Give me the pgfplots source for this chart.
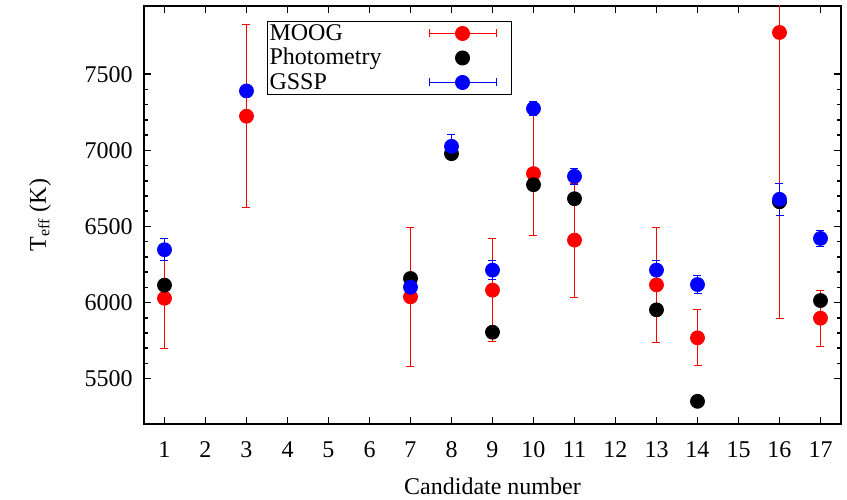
\documentclass[border=0pt]{standalone}
\usepackage{fontspec}
\setmainfont{Liberation Serif}
\usepackage{pgfplots}
\pgfplotsset{compat=1.18}
\begin{document}
\fontsize{12}{14}\selectfont
\begin{tikzpicture}
\useasboundingbox (-72pt,-37.35pt) rectangle (351.5pt,212.15pt);
\begin{axis}[
  at={(0,0)}, anchor=south west,
  scale only axis, width=348.5pt, height=209.3pt,
  xmin=0.5, xmax=17.5, ymin=5200, ymax=7950,
  xtick={1,...,17},
  ytick={5500,6000,6500,7000,7500},
  minor y tick num=4,
  tick align=inside,
  major tick length=3.5pt, minor tick length=2pt,
  every tick/.style={black, line width=0.8pt},
  axis line style={line width=1pt},
  /pgf/number format/assume math mode=true,
  /pgf/number format/set thousands separator={},
  tick label style={font=\fontsize{12}{14}\selectfont},
  label style={font=\fontsize{12}{14}\selectfont},
  xticklabel style={yshift=-4.5pt},
  yticklabel style={xshift=-1.5pt},
  xlabel={Candidate number},
  ylabel={T\textsubscript{eff} (K)},
  xlabel style={at={(axis description cs:0.5,0)}, anchor=center, yshift=-31pt},
  ylabel style={at={(axis description cs:-0.1492,0.5)}, anchor=center},
  legend plot pos=right,
  legend cell align=left,
  legend style={at={(axis description cs:0.1765,0.9635)}, anchor=north west,
    draw=black, line width=0.5pt, inner sep=0.5pt, row sep=1.25pt,
    nodes={inner sep=0.5pt, text height=8.5pt, text depth=1.5pt,
      font=\fontsize{12}{14}\selectfont}},
  clip=true,
]
% MOOG
\addplot[only marks, mark=*, mark size=3.5pt, color=red, mark options={draw=red, fill=red},
  legend image code/.code={
    \path[draw=none, fill=none] (0pt,-3.5pt) rectangle (40.5pt,3.5pt);
    \draw[red, line width=0.5pt] (0pt,0pt) -- (33.5pt,0pt);
    \draw[red, line width=0.5pt] (0pt,-2pt) -- (0pt,2pt);
    \draw[red, line width=0.5pt] (33.5pt,-2pt) -- (33.5pt,2pt);
    \fill[red] (16.75pt,0pt) circle (3.5pt);},
  error bars/.cd, y dir=both, y explicit,
  error bar style={red, line width=0.5pt},
  error mark options={red, mark size=2pt, line width=0.5pt, rotate=90}]
  coordinates {
  (1,6028) +- (0,330)
  (3,7224) +- (0,602)
  (7,6037) +- (0,455)
  (9,6081) +- (0,337)
  (10,6847) +- (0,404)
  (11,6410) +- (0,375)
  (13,6116) +- (0,380)
  (14,5768) +- (0,184)
  (16,7774) +- (0,1877)
  (17,5897) +- (0,183)
  };
\addlegendentry{\makebox[79pt][l]{MOOG}}
% Photometry
\addplot[only marks, mark=*, mark size=3.5pt, color=black, mark options={draw=black, fill=black},
  legend image code/.code={
    \path[draw=none, fill=none] (0pt,-3.5pt) rectangle (40.5pt,3.5pt);
    \fill[black] (16.75pt,0pt) circle (3.5pt);}]
  coordinates {
  (1,6114) (7,6158) (8,6978) (9,5805) (10,6774) (11,6682)
  (13,5952) (14,5351) (16,6662) (17,6013)
  };
\addlegendentry{\makebox[79pt][l]{Photometry}}
% GSSP
\addplot[only marks, mark=*, mark size=3.5pt, color=blue, mark options={draw=blue, fill=blue},
  legend image code/.code={
    \path[draw=none, fill=none] (0pt,-3.5pt) rectangle (40.5pt,3.5pt);
    \draw[blue, line width=0.5pt] (0pt,0pt) -- (33.5pt,0pt);
    \draw[blue, line width=0.5pt] (0pt,-2pt) -- (0pt,2pt);
    \draw[blue, line width=0.5pt] (33.5pt,-2pt) -- (33.5pt,2pt);
    \fill[blue] (16.75pt,0pt) circle (3.5pt);},
  error bars/.cd, y dir=both, y explicit,
  error bar style={blue, line width=0.5pt},
  error mark options={blue, mark size=2pt, line width=0.5pt, rotate=90}]
  coordinates {
  (1,6347) +- (0,72)
  (3,7390) +- (0,35)
  (7,6101) +- (0,75)
  (8,7026) +- (0,81)
  (9,6213) +- (0,63)
  (10,7274) +- (0,44)
  (11,6829) +- (0,53)
  (13,6213) +- (0,60)
  (14,6118) +- (0,60)
  (16,6678) +- (0,106)
  (17,6421) +- (0,55)
  };
\addlegendentry{\makebox[79pt][l]{GSSP}}
\end{axis}
\end{tikzpicture}
\end{document}
